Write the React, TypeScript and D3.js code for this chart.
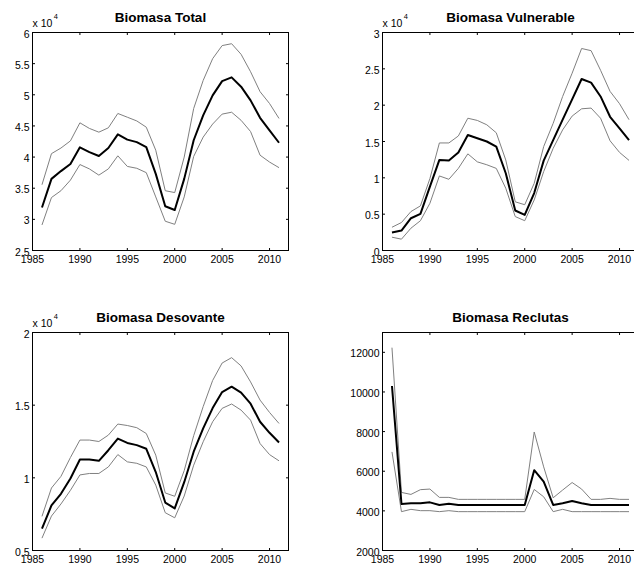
import React from "react";
import * as d3 from "d3";

const years = [1986,1987,1988,1989,1990,1991,1992,1993,1994,1995,1996,1997,1998,1999,2000,2001,2002,2003,2004,2005,2006,2007,2008,2009,2010,2011];
const xTicks = [1985,1990,1995,2000,2005,2010];

// Biomasa Total (x 10^4)
const totalMain = [3.19,3.65,3.775,3.89,4.156,4.08,4.017,4.145,4.365,4.28,4.24,4.16,3.73,3.21,3.15,3.65,4.27,4.67,4.99,5.22,5.28,5.13,4.91,4.63,4.43,4.23];
const totalUpper = [3.556,4.055,4.145,4.26,4.55,4.46,4.40,4.47,4.70,4.64,4.58,4.48,4.11,3.46,3.43,4.0,4.78,5.23,5.58,5.79,5.82,5.65,5.37,5.05,4.86,4.62];
const totalLower = [2.91,3.35,3.46,3.63,3.88,3.81,3.71,3.81,4.02,3.85,3.82,3.75,3.36,2.97,2.92,3.36,4.01,4.32,4.53,4.69,4.72,4.59,4.41,4.03,3.92,3.83];
const totalTicks = [2.5,3,3.5,4,4.5,5,5.5,6];

// Biomasa Vulnerable (x 10^4)
const vulnMain = [0.247,0.275,0.444,0.504,0.88,1.246,1.237,1.35,1.59,1.544,1.50,1.43,1.063,0.55,0.49,0.79,1.237,1.52,1.80,2.08,2.36,2.31,2.12,1.84,1.68,1.52];
const vulnUpper = [0.32,0.385,0.536,0.614,0.99,1.48,1.48,1.576,1.82,1.79,1.73,1.62,1.246,0.67,0.63,0.925,1.43,1.75,2.12,2.44,2.78,2.75,2.48,2.19,2.02,1.80];
const vulnLower = [0.183,0.156,0.307,0.41,0.65,1.026,0.98,1.13,1.33,1.22,1.18,1.13,0.857,0.467,0.41,0.696,1.086,1.406,1.66,1.85,1.95,1.96,1.82,1.51,1.35,1.24];
const vulnTicks = [0,0.5,1,1.5,2,2.5,3];

// Biomasa Desovante (x 10^4)
const desoMain = [0.65,0.81,0.89,0.995,1.126,1.126,1.117,1.19,1.27,1.24,1.225,1.20,1.04,0.83,0.79,0.97,1.18,1.34,1.48,1.59,1.627,1.586,1.51,1.386,1.31,1.243];
const desoUpper = [0.735,0.93,1.01,1.14,1.26,1.26,1.25,1.294,1.37,1.36,1.345,1.305,1.156,0.896,0.873,1.05,1.29,1.49,1.67,1.79,1.827,1.77,1.66,1.535,1.45,1.374];
const desoLower = [0.585,0.737,0.82,0.914,1.02,1.03,1.03,1.075,1.16,1.11,1.10,1.075,0.95,0.76,0.725,0.875,1.087,1.248,1.386,1.478,1.508,1.466,1.397,1.236,1.16,1.117];
const desoTicks = [0.5,1,1.5,2];

// Biomasa Reclutas
const reclMain = [10300,4350,4380,4380,4430,4300,4360,4300,4300,4300,4300,4300,4300,4300,4300,6050,5470,4300,4380,4500,4380,4300,4300,4300,4300,4300];
const reclUpper = [12235,4930,4830,5070,5100,4680,4680,4580,4580,4580,4580,4580,4580,4580,4580,7980,6220,4660,5050,5430,5100,4580,4580,4630,4580,4580];
const reclLower = [6975,3960,4077,4010,4010,3960,4010,3960,3960,3960,3960,3960,3960,3960,3960,5080,4710,3960,4077,3960,3960,3960,3960,3960,3960,3960];
const reclTicks = [2000,4000,6000,8000,10000,12000];

const FONT = "'Liberation Sans', Arial, Helvetica, sans-serif";

type PanelProps = {
  left: number; top: number; width: number; height: number;
  title: string; yDomain: [number, number]; yTicks: number[];
  main: number[]; upper: number[]; lower: number[]; exp?: boolean;
};

function Panel({ left, top, width, height, title, yDomain, yTicks, main, upper, lower, exp }: PanelProps) {
  const x = d3.scaleLinear().domain([1985, 2012]).range([left, left + width]);
  const y = d3.scaleLinear().domain(yDomain).range([top + height, top]);
  const line = d3.line<number>().x((_, i) => x(years[i])).y((d) => y(d));
  const tl = 2.5;
  const bottom = top + height;
  const right = left + width;
  return (
    <g fontFamily={FONT}>
      <path d={line(upper) || ""} fill="none" stroke="#808080" strokeWidth={1} />
      <path d={line(lower) || ""} fill="none" stroke="#808080" strokeWidth={1} />
      <path d={line(main) || ""} fill="none" stroke="#000" strokeWidth={2} strokeLinejoin="round" />
      <rect x={left} y={top} width={width} height={height} fill="none" stroke="#000" strokeWidth={1} />
      {xTicks.map((t) => (
        <g key={"x" + t}>
          <line x1={x(t)} x2={x(t)} y1={bottom} y2={bottom - tl} stroke="#000" />
          <line x1={x(t)} x2={x(t)} y1={top} y2={top + tl} stroke="#000" />
          <text x={x(t)} y={bottom + 12} fontSize={10.5} textAnchor="middle" fill="#000">{t}</text>
        </g>
      ))}
      {yTicks.map((t) => (
        <g key={"y" + t}>
          <line x1={left} x2={left + tl} y1={y(t)} y2={y(t)} stroke="#000" />
          <line x1={right} x2={right - tl} y1={y(t)} y2={y(t)} stroke="#000" />
          <text x={left - 3} y={y(t) + 5} fontSize={10.5} textAnchor="end" fill="#000">{d3.format("~g")(t)}</text>
        </g>
      ))}
      {exp && (
        <text x={left} y={top - 6} fontSize={10.5} fill="#000">
          x 10
          <tspan fontSize={7.5} dy={-7.5} dx={1.5}>4</tspan>
        </text>
      )}
      <text x={left + width / 2} y={top - 11} fontSize={13.5} fontWeight="bold" textAnchor="middle" fill="#000">{title}</text>
    </g>
  );
}

export default function App() {
  return (
    <svg width={634} height={569} style={{ position: "fixed", left: 0, top: 0, background: "#fff" }}>
      <rect width={634} height={569} fill="#fff" />
      <Panel left={32.5} top={32.5} width={256} height={218} title="Biomasa Total" yDomain={[2.5, 6]} yTicks={totalTicks} main={totalMain} upper={totalUpper} lower={totalLower} exp />
      <Panel left={382.5} top={32.5} width={256} height={218} title="Biomasa Vulnerable" yDomain={[0, 3]} yTicks={vulnTicks} main={vulnMain} upper={vulnUpper} lower={vulnLower} exp />
      <Panel left={32.5} top={332.5} width={256} height={218} title="Biomasa Desovante" yDomain={[0.5, 2]} yTicks={desoTicks} main={desoMain} upper={desoUpper} lower={desoLower} exp />
      <Panel left={382.5} top={332.5} width={256} height={218} title="Biomasa Reclutas" yDomain={[2000, 13000]} yTicks={reclTicks} main={reclMain} upper={reclUpper} lower={reclLower} />
    </svg>
  );
}
